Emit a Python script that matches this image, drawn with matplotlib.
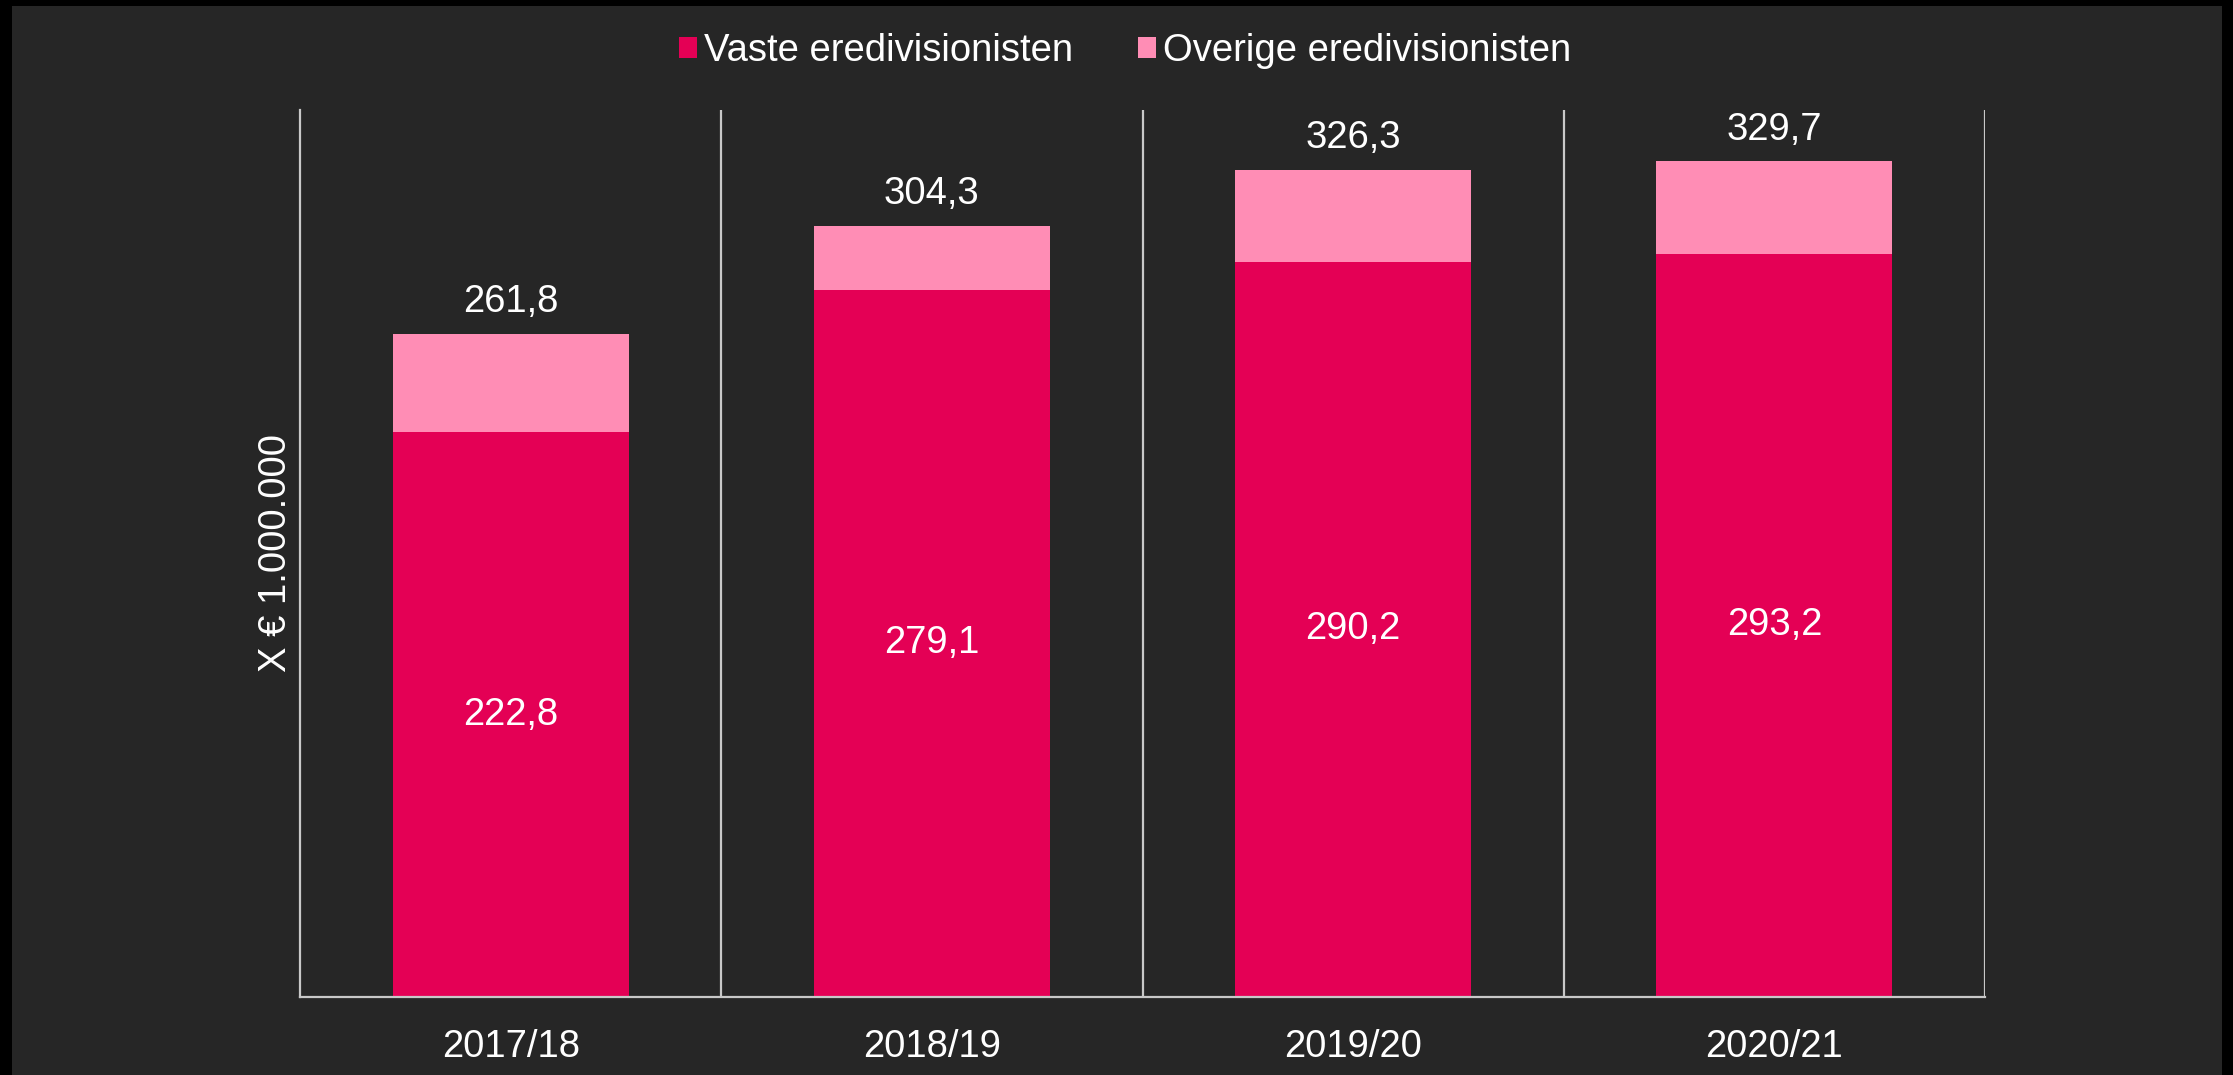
import matplotlib
matplotlib.use("Agg")
import matplotlib.pyplot as plt
from matplotlib.patches import Patch, Rectangle

# Seasons and revenue (x EUR 1.000.000); totals are cumulative bar tops
SEASONS = ["2017/18", "2018/19", "2019/20", "2020/21"]
VASTE = [222.8, 279.1, 290.2, 293.2]
TOTAAL = [261.8, 304.3, 326.3, 329.7]
OVERIGE = [t - v for t, v in zip(TOTAAL, VASTE)]

LABELS = ["Vaste eredivisionisten", "Overige eredivisionisten"]
RED = "#E40055"
PINK = "#FF8DB5"
BG = "#262626"
LINE = "#C8C8C8"

plt.rcParams["font.family"] = ["Liberation Sans", "DejaVu Sans"]
FS = 27.5

W, H = 2233, 1075
fig = plt.figure(figsize=(W / 100, H / 100), dpi=100, facecolor="black")
# dark panel inside thin black frame
fig.patches.append(Rectangle((12 / W, 0), (2222 - 12) / W, (H - 6) / H,
                             transform=fig.transFigure, facecolor=BG,
                             edgecolor="none", zorder=-1))

ax = fig.add_axes([300 / W, 78 / H, (1985 - 300) / W, (997 - 110) / H])
ax.set_facecolor("none")

x = list(range(len(SEASONS)))
width = 0.56
ax.bar(x, VASTE, width=width, color=RED, zorder=2)
ax.bar(x, OVERIGE, width=width, bottom=VASTE, color=PINK, zorder=2)

for xi, v, t in zip(x, VASTE, TOTAAL):
    ax.text(xi, v / 2, f"{v:.1f}".replace(".", ","), ha="center", va="center",
            color="white", fontsize=FS)
    ax.text(xi, t + 5.5, f"{t:.1f}".replace(".", ","), ha="center", va="bottom",
            color="white", fontsize=FS)

ax.set_xlim(-0.5, len(SEASONS) - 0.5)
ax.set_ylim(0, 350)

# category separators and right edge
for i in range(1, len(SEASONS) + 1):
    ax.axvline(i - 0.5, color=LINE, lw=1.6, zorder=1)

for side in ["top", "right"]:
    ax.spines[side].set_visible(False)
for side in ["left", "bottom"]:
    ax.spines[side].set_color(LINE)
    ax.spines[side].set_linewidth(1.6)

ax.set_xticks(x)
ax.set_xticklabels(SEASONS, color="white", fontsize=FS)
ax.tick_params(axis="x", length=0, pad=23)
ax.set_yticks([])
ax.set_ylabel("X € 1.000.000", color="white", fontsize=FS, labelpad=4)

handles = [Patch(facecolor=RED, label=LABELS[0]),
           Patch(facecolor=PINK, label=LABELS[1])]
fig.legend(handles=handles, loc="center", bbox_to_anchor=(0.504, 1 - 51 / H),
           ncol=2, frameon=False, fontsize=FS, labelcolor="white",
           handlelength=0.45, handleheight=0.45, handletextpad=0.2,
           columnspacing=1.7)

fig.savefig("out.png", dpi=100, facecolor=fig.get_facecolor())
